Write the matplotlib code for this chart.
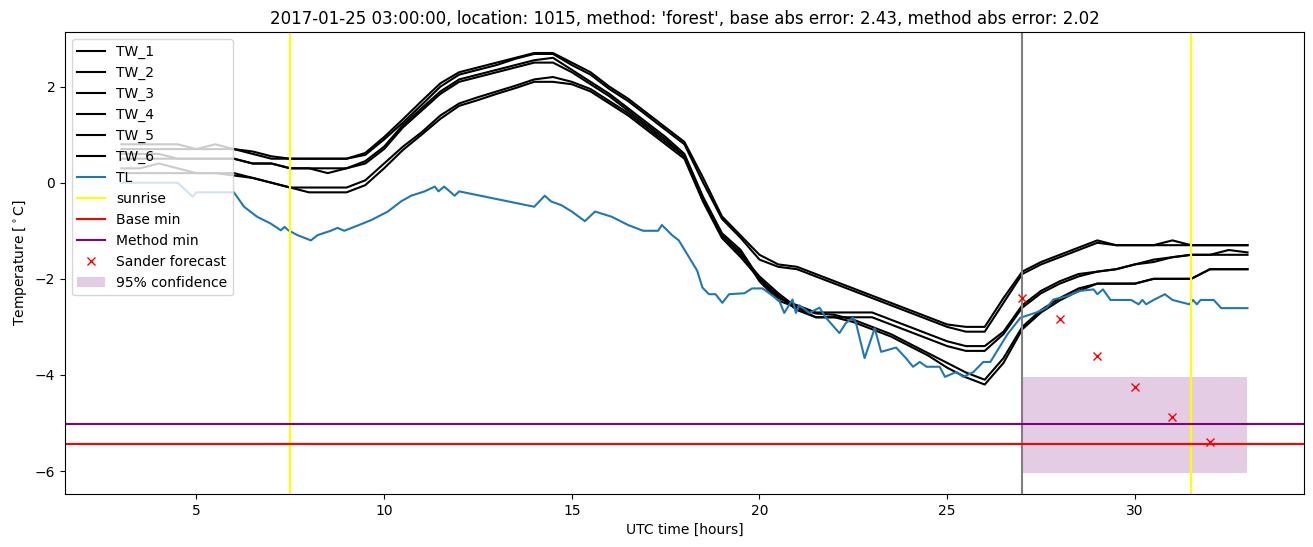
import numpy as np
import matplotlib
matplotlib.use('Agg')
import matplotlib.pyplot as plt

# half-hourly water temperatures, 03:00 to 33:00 UTC
hours = np.arange(3.0, 33.5, 0.5)

tw_1 = [0.8, 0.8, 0.8, 0.8, 0.7, 0.7, 0.7, 0.65, 0.55, 0.5,
        0.5, 0.5, 0.5, 0.62, 0.95, 1.32, 1.7, 2.07, 2.3, 2.4,
        2.5, 2.6, 2.7, 2.7, 2.5, 2.3, 2.0, 1.75, 1.45, 1.15,
        0.85, 0.1, -0.7, -1.1, -1.5, -1.7, -1.75, -1.9, -2.05, -2.2,
        -2.35, -2.5, -2.65, -2.8, -2.95, -3.0, -3.0, -2.4, -1.85, -1.65,
        -1.5, -1.35, -1.2, -1.3, -1.3, -1.3, -1.2, -1.3, -1.3, -1.3,
        -1.3]
tw_2 = [0.7, 0.7, 0.7, 0.7, 0.7, 0.8, 0.7, 0.6, 0.5, 0.5,
        0.5, 0.5, 0.5, 0.58, 0.9, 1.25, 1.62, 2.0, 2.25, 2.35,
        2.45, 2.58, 2.68, 2.68, 2.45, 2.25, 1.95, 1.7, 1.4, 1.1,
        0.8, 0.0, -0.75, -1.15, -1.6, -1.75, -1.8, -1.95, -2.1, -2.25,
        -2.4, -2.55, -2.7, -2.85, -3.0, -3.1, -3.1, -2.5, -1.9, -1.7,
        -1.55, -1.4, -1.25, -1.3, -1.3, -1.3, -1.3, -1.3, -1.3, -1.3,
        -1.3]
tw_3 = [0.6, 0.6, 0.6, 0.5, 0.5, 0.5, 0.5, 0.4, 0.4, 0.3,
        0.3, 0.2, 0.3, 0.45, 0.75, 1.2, 1.55, 1.9, 2.15, 2.25,
        2.35, 2.45, 2.55, 2.6, 2.35, 2.1, 1.85, 1.55, 1.25, 0.95,
        0.6, -0.3, -1.05, -1.4, -2.0, -2.4, -2.55, -2.7, -2.7, -2.7,
        -2.7, -2.85, -3.0, -3.15, -3.3, -3.4, -3.4, -3.1, -2.55, -2.25,
        -2.05, -1.9, -1.85, -1.8, -1.7, -1.6, -1.55, -1.5, -1.5, -1.4,
        -1.45]
tw_4 = [0.5, 0.5, 0.5, 0.5, 0.5, 0.5, 0.5, 0.4, 0.4, 0.3,
        0.3, 0.3, 0.3, 0.4, 0.7, 1.15, 1.5, 1.85, 2.1, 2.2,
        2.3, 2.4, 2.5, 2.5, 2.3, 2.05, 1.8, 1.5, 1.2, 0.9,
        0.55, -0.35, -1.1, -1.45, -2.05, -2.45, -2.6, -2.8, -2.8, -2.8,
        -2.8, -2.95, -3.1, -3.25, -3.4, -3.5, -3.5, -3.15, -2.6, -2.3,
        -2.1, -1.95, -1.85, -1.8, -1.7, -1.65, -1.55, -1.5, -1.5, -1.5,
        -1.5]
tw_5 = [0.3, 0.3, 0.4, 0.3, 0.2, 0.2, 0.2, 0.1, 0.0, -0.1,
        -0.1, -0.1, -0.1, 0.05, 0.4, 0.75, 1.05, 1.4, 1.65, 1.78,
        1.9, 2.02, 2.15, 2.2, 2.1, 1.95, 1.7, 1.45, 1.15, 0.85,
        0.55, -0.35, -1.1, -1.5, -1.95, -2.3, -2.6, -2.72, -2.75, -2.85,
        -3.0, -3.15, -3.35, -3.55, -3.75, -3.95, -4.1, -3.65, -3.0, -2.65,
        -2.4, -2.2, -2.1, -2.1, -2.1, -2.0, -2.0, -2.0, -1.8, -1.8,
        -1.8]
tw_6 = [0.2, 0.2, 0.2, 0.2, 0.2, 0.2, 0.15, 0.1, 0.0, -0.1,
        -0.2, -0.2, -0.2, -0.05, 0.3, 0.68, 1.0, 1.33, 1.6, 1.72,
        1.85, 1.97, 2.1, 2.1, 2.05, 1.9, 1.65, 1.4, 1.1, 0.8,
        0.5, -0.4, -1.15, -1.55, -2.0, -2.35, -2.65, -2.8, -2.8, -2.9,
        -3.05, -3.2, -3.4, -3.6, -3.85, -4.05, -4.2, -3.75, -3.05, -2.7,
        -2.45, -2.25, -2.1, -2.1, -2.1, -2.0, -2.0, -2.0, -1.8, -1.8,
        -1.8]

# air temperature (TL), irregular breakpoints
tl_hours = [3.0, 4.5, 4.9, 5.0, 6.0, 6.27, 6.62, 6.98, 7.25, 7.35, 7.45, 7.69,
            8.05, 8.23, 8.58, 8.76, 8.94, 9.3, 9.65, 10.1, 10.45, 10.72, 11.08,
            11.35, 11.45, 11.6, 11.88, 12.0, 14.0, 14.28, 14.45, 14.73, 15.0,
            15.35, 15.62, 16.07, 16.5, 16.9, 17.3, 17.4, 17.67, 17.85, 18.1,
            18.34, 18.48, 18.65, 18.83, 19.01, 19.19, 19.6, 19.8, 20.08, 20.26,
            20.53, 20.66, 20.88, 20.97, 21.06, 21.33, 21.6, 21.77, 22.13, 22.3,
            22.49, 22.57, 22.8, 23.07, 23.24, 23.64, 23.9, 24.09, 24.27, 24.45,
            24.8, 24.94, 25.24, 25.43, 25.7, 25.96, 26.15, 26.6, 26.95, 27.38,
            27.65, 27.83, 28.2, 28.55, 28.9, 29.0, 29.15, 29.35, 29.9, 30.1,
            30.2, 30.3, 30.5, 30.8, 31.0, 31.45, 31.55, 31.65, 31.75, 32.1,
            32.3, 33.0]
tl = [0.0, 0.0, -0.29, -0.2, -0.2, -0.5, -0.71, -0.85, -0.99, -0.92, -0.99, -1.09,
      -1.2, -1.09, -1.0, -0.94, -1.0, -0.89, -0.78, -0.6, -0.39, -0.27, -0.18,
      -0.08, -0.18, -0.08, -0.27, -0.18, -0.5, -0.27, -0.39, -0.47, -0.6,
      -0.8, -0.6, -0.71, -0.88, -1.0, -1.0, -0.88, -1.09, -1.2, -1.52,
      -1.83, -2.18, -2.32, -2.32, -2.5, -2.32, -2.3, -2.2, -2.2, -2.3,
      -2.46, -2.71, -2.43, -2.71, -2.55, -2.71, -2.6, -2.81, -3.13, -2.92,
      -2.81, -2.92, -3.65, -3.03, -3.52, -3.43, -3.65, -3.83, -3.73, -3.83,
      -3.83, -4.04, -3.94, -4.04, -3.94, -3.73, -3.73, -3.16, -2.81, -2.7,
      -2.6, -2.43, -2.36, -2.25, -2.22, -2.32, -2.22, -2.44, -2.44, -2.53,
      -2.44, -2.53, -2.44, -2.32, -2.44, -2.53, -2.44, -2.53, -2.44, -2.44,
      -2.61, -2.61]

sunrise = [7.5, 31.5]
forecast_start = 27
base_min = -5.43
method_min = -5.02
sander_hours = [27, 28, 29, 30, 31, 32]
sander = [-2.4, -2.83, -3.61, -4.25, -4.87, -5.4]
conf_hours = [27, 33]
conf_low = -6.04
conf_high = -4.04

fig, ax = plt.subplots(figsize=(13.13, 5.47), dpi=100)
fig.subplots_adjust(left=0.0495, right=0.993, top=0.9415, bottom=0.097)

for i, tw in enumerate([tw_1, tw_2, tw_3, tw_4, tw_5, tw_6]):
    ax.plot(hours, tw, color='black', label='TW_%d' % (i + 1))
ax.plot(tl_hours, tl, color='C0', label='TL')
ax.axvline(sunrise[0], color='yellow', label='sunrise')
ax.axvline(sunrise[1], color='yellow')
ax.axvline(forecast_start, color='grey')
ax.axhline(base_min, color='red', label='Base min')
ax.axhline(method_min, color='purple', label='Method min')
ax.plot(sander_hours, sander, 'x', color='red', label='Sander forecast')
ax.fill_between(conf_hours, conf_low, conf_high, color='purple', alpha=0.2,
                linewidth=0, label='95% confidence')

ax.set_title("2017-01-25 03:00:00, location: 1015, method: 'forest', "
             "base abs error: 2.43, method abs error: 2.02")
ax.set_xlabel('UTC time [hours]')
ax.set_ylabel(r'Temperature [$^\circ$C]')
ax.legend(loc='upper left')

fig.savefig('out.png')
